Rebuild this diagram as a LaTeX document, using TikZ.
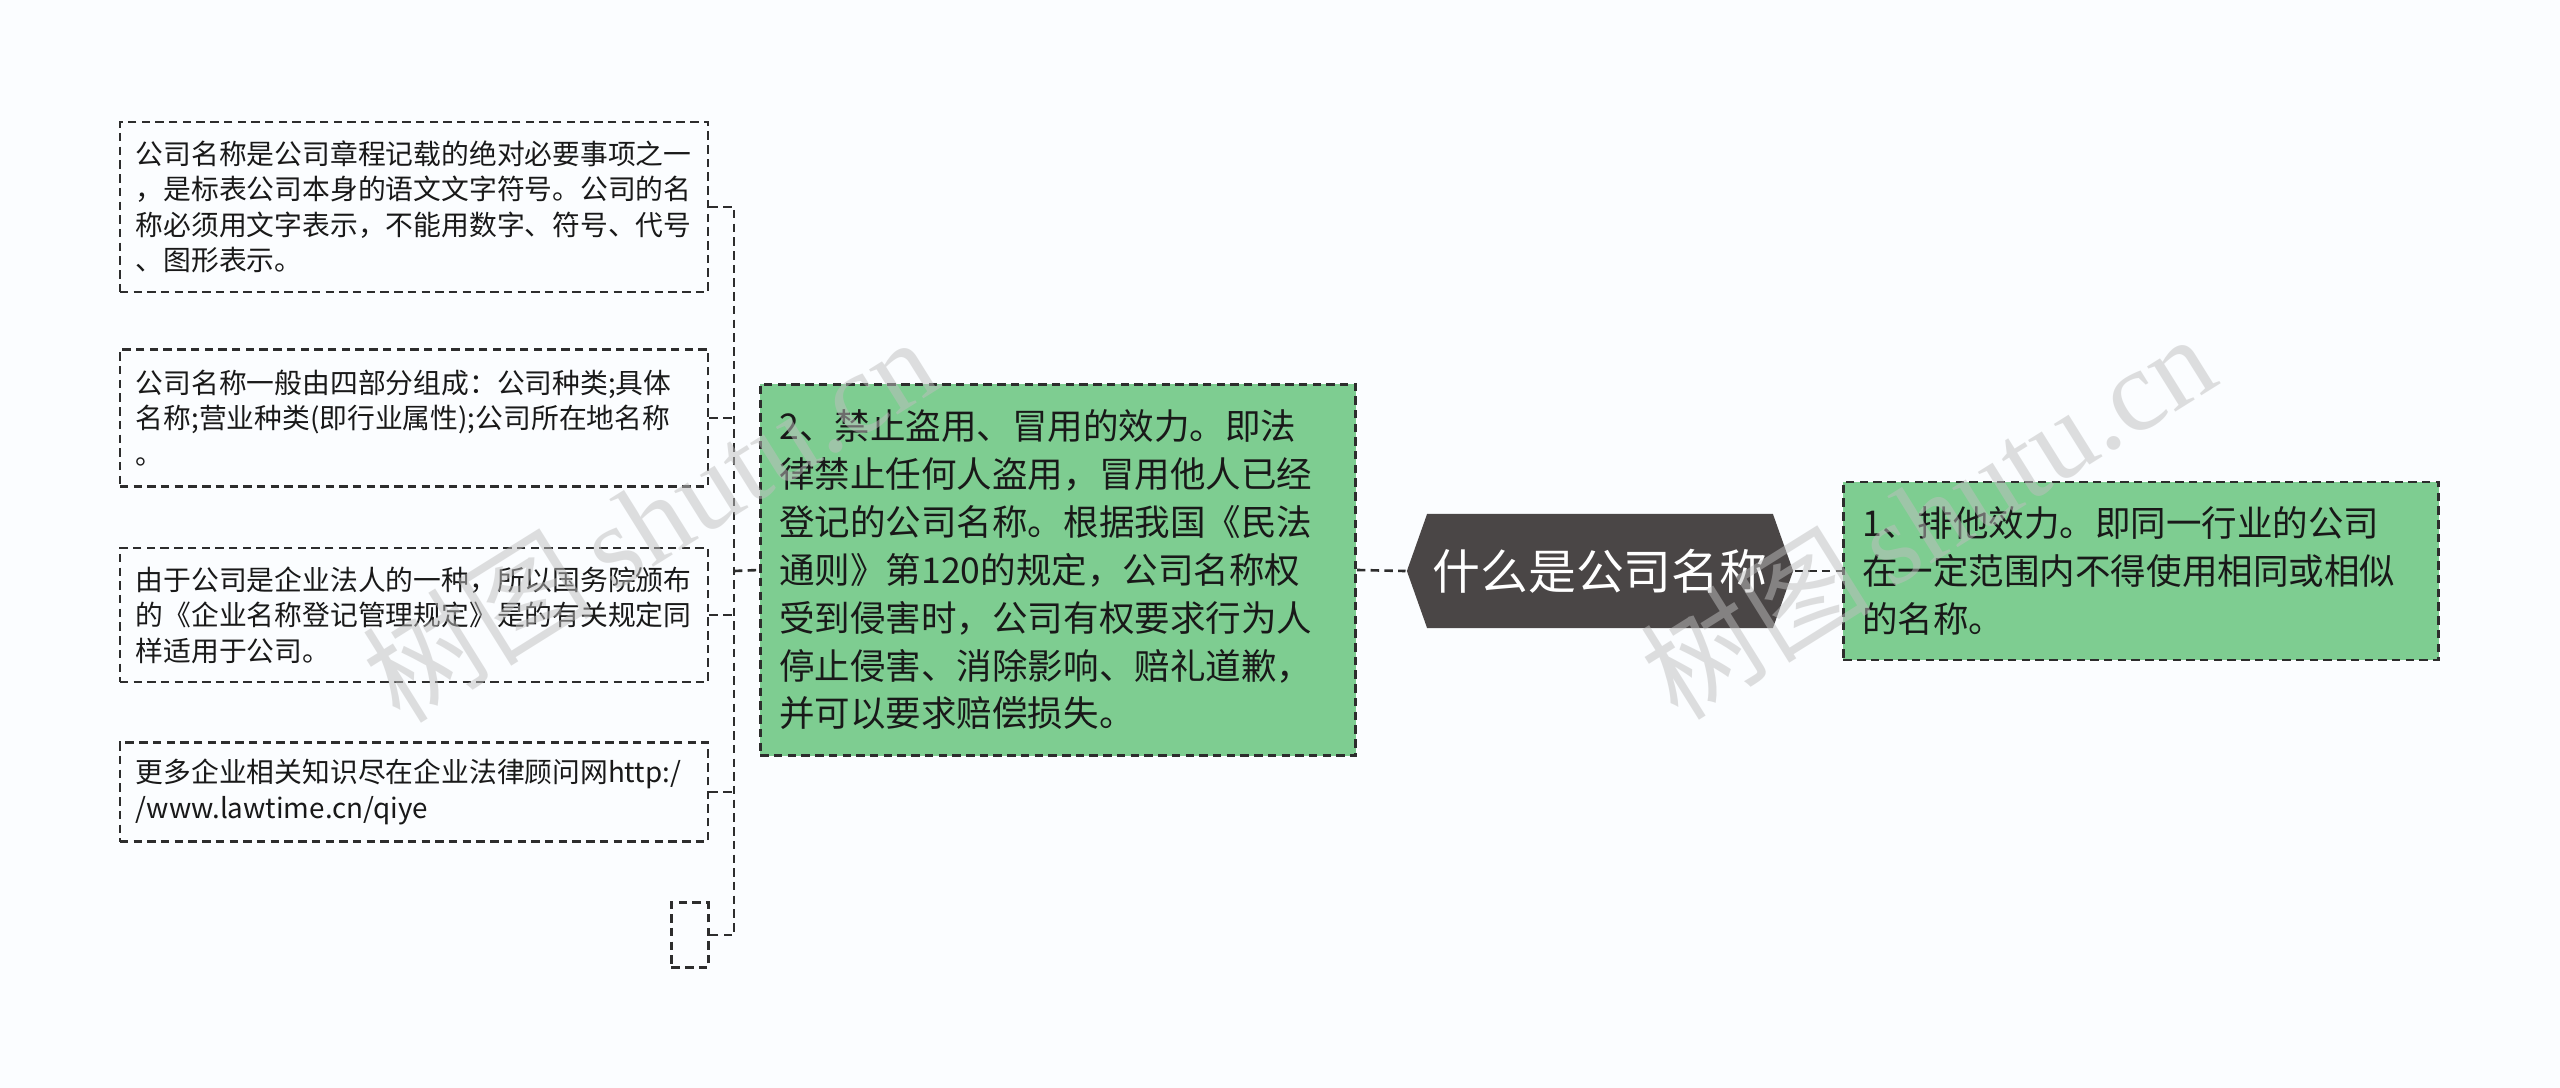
\documentclass[tikz,border=0pt]{standalone}
\usepackage{fontspec}
\setmainfont{Noto Sans CJK SC}
\newfontfamily\wmserif{Liberation Serif}
\usetikzlibrary{shapes.symbols}
\definecolor{leafgreen}{RGB}{126,205,145}
\definecolor{rootgray}{RGB}{74,70,70}
\definecolor{edgegray}{RGB}{45,45,45}
\definecolor{pagebg}{RGB}{251,253,255}
\begin{document}
\begin{tikzpicture}[x=0.01cm, y=-0.01cm,
                    line width=0.75pt,
                    draw=edgegray]
    \tikzstyle{link}=[draw=edgegray, dash pattern=on 2.4pt off 1.5pt]
    \tikzstyle{note}=[link, inner xsep=0.16cm, inner ysep=0pt, text width=5.56cm, align=left,
                      font=\fontsize{7.9}{10.1}\selectfont, text=black!90]
    \tikzstyle{empty}=[link, minimum width=0.37cm, minimum height=0.65cm, inner sep=0pt]
    \tikzstyle{branch}=[note, fill=leafgreen, inner xsep=0.19cm, text width=5.57cm,
                        font=\fontsize{10.1}{13.6}\selectfont]
    \tikzstyle{root}=[signal, signal to=west and east, signal pointer angle=141, fill=rootgray,
                      minimum width=3.86cm, minimum height=1.14cm, inner sep=0pt,
                      text=white, font=\fontsize{13.6}{16}\selectfont]
    \tikzstyle{stamp}=[rotate=32, text=gray!50, opacity=0.5, font=\fontsize{33}{33}\selectfont]

    \fill[pagebg] (0,0) rectangle (2560,1088);

    \node[note, minimum height=1.70cm] (n1) at (414,207)
        {公司名称是公司章程记载的绝对必要事项之一\\，是标表公司本身的语文文字符号。公司的名\\称必须用文字表示，不能用数字、符号、代号\\、图形表示。};
    \node[note, minimum height=1.37cm] (n2) at (414,418)
        {公司名称一般由四部分组成：公司种类;具体\\名称;营业种类(即行业属性);公司所在地名称\\。};
    \node[note, minimum height=1.34cm] (n3) at (414,615)
        {由于公司是企业法人的一种，所以国务院颁布\\的《企业名称登记管理规定》是的有关规定同\\样适用于公司。};
    \node[note, minimum height=0.99cm] (n4) at (414,792)
        {更多企业相关知识尽在企业法律顾问网http:/\\/www.lawtime.cn/qiye};
    \node[empty] (n5) at (690,935) {};

    \node[branch, minimum height=3.71cm] (b2) at (1058,570)
        {2、禁止盗用、冒用的效力。即法\\律禁止任何人盗用，冒用他人已经\\登记的公司名称。根据我国《民法\\通则》第120的规定，公司名称权\\受到侵害时，公司有权要求行为人\\停止侵害、消除影响、赔礼道歉，\\并可以要求赔偿损失。};
    \node[root] (top) at (1600,571) {什么是公司名称};
    \node[branch, minimum height=1.78cm] (b1) at (2141,571)
        {1、排他效力。即同一行业的公司\\在一定范围内不得使用相同或相似\\的名称。};

    \coordinate (hub) at (734,571);
    \draw[link] (n1.east) -- (n1.east -| hub) -- (n5.east -| hub) -- (n5.east);
    \foreach \n in {n2,n3,n4}
        \draw[link] (\n.east) -- (\n.east -| hub);
    \draw[link] (hub) -- (b2.west);
    \draw[link] (b2.east) -- (top.west);
    \draw[link] (top.east) -- (b1.west);

    \node[stamp] (wm1) at (649,518) {树图\,{\wmserif shutu.cn}};
    \node[stamp] (wm2) at (1927,515) {树图\,{\wmserif shutu.cn}};
\end{tikzpicture}
\end{document}
